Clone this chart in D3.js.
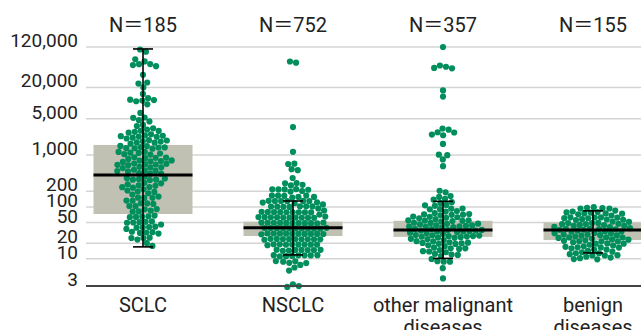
<!DOCTYPE html>
<html>
<head>
<meta charset="utf-8">
<script src="https://cdn.jsdelivr.net/npm/d3@7"></script>
<style>
  html, body { margin: 0; padding: 0; background: #fff; }
  svg { display: block; font-family: Roboto, "Noto Sans CJK JP", "Noto Sans", sans-serif; }
</style>
</head>
<body>
<div id="chart"></div>
<script>
// categories and their counts
const categories = ['SCLC', 'NSCLC', 'other malignant diseases', 'benign diseases'];
const labelLines = [['SCLC'], ['NSCLC'], ['other malignant', 'diseases'], ['benign', 'diseases']];
const counts = [185, 752, 357, 155];

// box (grey band), median and error bar per category
const boxLow = [73, 27.5, 26.5, 23];
const boxHigh = [1560, 52, 54, 50];
const medians = [410, 39.5, 36, 36];
const whiskerLow = [17, 11.9, 10.2, 13];
const whiskerHigh = [110000, 130, 128, 84];

const yTicks = [3, 10, 20, 50, 100, 200, 1000, 5000, 20000, 120000];

const sclcValues = [
  107000, 98000, 68000, 60000, 59000, 57000, 54000, 52000, 35000, 24500, 23500, 20500,
  15000, 12000, 11500, 11500, 11200, 11000, 9600, 6400, 5200, 5100, 4500, 4400,
  3450, 3400, 3150, 3000, 2900, 2850, 2650, 2350, 2300, 2300, 2280, 2250, 2250, 2200,
  2200, 2150, 1900, 1880, 1850, 1820, 1800, 1780, 1450, 1440, 1430, 1420, 1400, 1400,
  1380, 1370, 1350, 1120, 1100, 1100, 1080, 1060, 1050, 1030,
  820, 810, 800, 790, 780, 770, 760, 750, 720, 710, 700, 690,
  680, 670, 660, 650, 650, 640, 630, 620, 610, 530, 520, 510, 500, 500, 490, 480,
  360, 350, 340, 335, 330, 325, 320, 310, 300, 260, 255, 250, 245, 240, 235, 230, 225, 220,
  180, 175, 170, 165, 160, 158, 155, 130, 125, 122, 118, 115, 112,
  92, 90, 87, 85, 82, 80, 68, 66, 65, 63, 62,
  52, 50, 49, 48, 47, 46, 45, 44, 42, 37, 36, 35, 34, 33, 32, 31, 27, 26, 25, 24, 23, 18
];
const nsclcValues = [
  63000, 60000, 3450, 1150, 680, 660, 540, 510, 360, 280, 270, 265, 260,
  205, 200, 198, 195, 192, 190, 188,
  150, 145, 140, 138, 135, 132, 130, 128, 125, 122,
  118, 115, 112, 110, 108, 105, 102, 100, 98, 96, 95,
  93, 90, 88, 86, 85, 83, 82, 80, 78, 77, 76,
  75, 73, 72, 70, 69, 68, 66, 65, 64, 62, 61,
  60, 59, 58, 57, 56, 55, 54, 53, 52, 51, 50,
  49, 48, 47, 46, 45, 44, 43, 42, 41, 40, 39,
  38, 37, 36.5, 36, 35, 34, 33.5, 33, 32, 31.5, 31,
  30, 29.5, 29, 28, 27.5, 27, 26.5, 26, 25.5, 25,
  24.5, 24, 23, 22.5, 22, 21.5, 21, 20.5, 20,
  19.5, 19, 18.5, 18, 17.5, 17, 16.5, 16,
  15.5, 15, 14.5, 14, 13.8, 13.5, 13, 12.8, 12.5, 12, 11.8, 11.5,
  9.5, 9, 8.5, 8.2, 8, 7.8, 7.5, 6, 3.2, 3.0, 2.9
];
const otherValues = [
  120000, 52000, 50000, 48000, 47000, 17000, 13700, 3100, 3050, 2800, 2750, 2500, 2400,
  1630, 1000, 980, 840, 610,
  200, 190, 160, 145, 135, 130, 125, 118, 112, 108, 100,
  90, 86, 82, 78, 75, 72, 70,
  68, 65, 63, 61, 60, 58, 57, 56, 55,
  54, 53, 52, 51, 50, 49, 48, 47, 46, 45,
  44.5, 44, 43, 42, 41.5, 41, 40, 39.5, 39, 38.5, 38,
  37.5, 37, 36.5, 36, 36, 35.5, 35, 35, 34.5, 34, 34, 33.5, 33,
  32.5, 32, 31.5, 31, 30.5, 30, 29.5, 29, 28.5, 28,
  27, 26.5, 26, 25, 24.5, 24, 23, 22.5, 22,
  21, 20.5, 20, 19, 18.5, 18, 17, 16.5,
  15.5, 15, 14, 13.5, 13, 12.5, 12, 11.5,
  10, 9.5, 9, 8.8, 6.6, 4.2
];
const benignValues = [
  84, 82, 80, 78, 76, 74, 72,
  70, 68, 66, 65, 64, 62, 61, 60, 59, 58,
  57, 56, 55, 54, 53, 52, 51, 50, 49, 48,
  47, 46, 45, 44.5, 44, 43, 42, 41.5, 41, 40,
  39.5, 39, 38.5, 38, 37.5, 37, 36.5, 36, 35.5, 35, 34.5, 34,
  33.5, 33, 32.5, 32, 31.5, 31, 30.5, 30, 29.5, 29, 28.5, 28,
  27.5, 27, 26.5, 26, 25.5, 25, 24.5, 24, 23.5, 23,
  22.5, 22, 21.5, 21, 20.5, 20, 19.5, 19, 18.5, 18,
  17.5, 17, 16.5, 16, 15.5, 15, 14.5, 14,
  13, 12.8, 12.7, 12.6, 12.5, 12.5, 12.4, 12.4, 12.3, 12.2
];
const pointValues = [sclcValues, nsclcValues, otherValues, benignValues];

const width = 641, height = 330;
const gridLeft = 86;
const dotColor = '#008f5c';
const textColor = '#222';

const svg = d3.select('#chart').append('svg')
  .attr('width', width)
  .attr('height', height);

const x = d3.scaleBand()
  .domain(categories)
  .range([68, 668])
  .paddingInner(0.34)
  .paddingOuter(0.17);

const y = d3.scaleLog()
  .domain([3, 120000])
  .range([286, 47]);

const cx = c => x(c) + x.bandwidth() / 2;

// grid lines
svg.append('g')
  .selectAll('line')
  .data(yTicks.slice(1))
  .join('line')
  .attr('x1', gridLeft)
  .attr('x2', width)
  .attr('y1', d => y(d))
  .attr('y2', d => y(d))
  .attr('stroke', '#d4d4d4')
  .attr('stroke-width', 1.5);

// y axis labels sit on their grid lines
svg.append('g')
  .selectAll('text')
  .data(yTicks)
  .join('text')
  .attr('x', 78)
  .attr('y', d => y(d))
  .attr('text-anchor', 'end')
  .attr('font-size', 19)
  .attr('fill', textColor)
  .text(d => d3.format(',')(d));

// grey boxes
svg.append('g')
  .selectAll('rect')
  .data(categories)
  .join('rect')
  .attr('x', d => x(d))
  .attr('width', x.bandwidth())
  .attr('y', (d, i) => y(boxHigh[i]))
  .attr('height', (d, i) => y(boxLow[i]) - y(boxHigh[i]))
  .attr('fill', '#c1c1b3');

// beeswarm of the single values
const nodes = [];
pointValues.forEach((vals, i) => {
  vals.forEach(v => {
    nodes.push({ cat: categories[i], value: v, x: cx(categories[i]), y: y(v) });
  });
});
const simulation = d3.forceSimulation(nodes)
  .force('x', d3.forceX(d => cx(d.cat)).strength(0.06))
  .force('y', d3.forceY(d => y(d.value)).strength(1))
  .force('collide', d3.forceCollide(3.1))
  .stop();
for (let i = 0; i < 300; i++) simulation.tick();

svg.append('g')
  .selectAll('circle')
  .data(nodes)
  .join('circle')
  .attr('cx', d => d.x)
  .attr('cy', d => d.y)
  .attr('r', 3.1)
  .attr('fill', dotColor);

// error bars
const bars = svg.append('g').attr('stroke', '#000').attr('stroke-width', 1.6);
categories.forEach((c, i) => {
  bars.append('line')
    .attr('x1', cx(c)).attr('x2', cx(c))
    .attr('y1', y(whiskerHigh[i])).attr('y2', y(whiskerLow[i]));
  [whiskerHigh[i], whiskerLow[i]].forEach(v => {
    bars.append('line')
      .attr('x1', cx(c) - 10).attr('x2', cx(c) + 10)
      .attr('y1', y(v)).attr('y2', y(v));
  });
});

// medians
svg.append('g')
  .selectAll('line')
  .data(categories)
  .join('line')
  .attr('x1', d => x(d))
  .attr('x2', d => x(d) + x.bandwidth())
  .attr('y1', (d, i) => y(medians[i]))
  .attr('y2', (d, i) => y(medians[i]))
  .attr('stroke', '#000')
  .attr('stroke-width', 3);

// baseline
svg.append('line')
  .attr('x1', gridLeft)
  .attr('x2', width)
  .attr('y1', y(3))
  .attr('y2', y(3))
  .attr('stroke', '#444')
  .attr('stroke-width', 2);

// N labels (full-width equals sign as in the original)
svg.append('g')
  .selectAll('text')
  .data(categories)
  .join('text')
  .attr('x', d => cx(d))
  .attr('y', 32)
  .attr('text-anchor', 'middle')
  .attr('font-size', 20)
  .attr('fill', textColor)
  .text((d, i) => 'N＝' + counts[i]);

// category labels
const catLabels = svg.append('g')
  .selectAll('text')
  .data(categories)
  .join('text')
  .attr('x', d => cx(d))
  .attr('y', 312)
  .attr('text-anchor', 'middle')
  .attr('font-size', 20)
  .attr('fill', textColor);
catLabels.selectAll('tspan')
  .data((d, i) => labelLines[i])
  .join('tspan')
  .attr('x', function () { return d3.select(this.parentNode).attr('x'); })
  .attr('dy', (d, j) => j === 0 ? 0 : 22)
  .text(d => d);
</script>
</body>
</html>
